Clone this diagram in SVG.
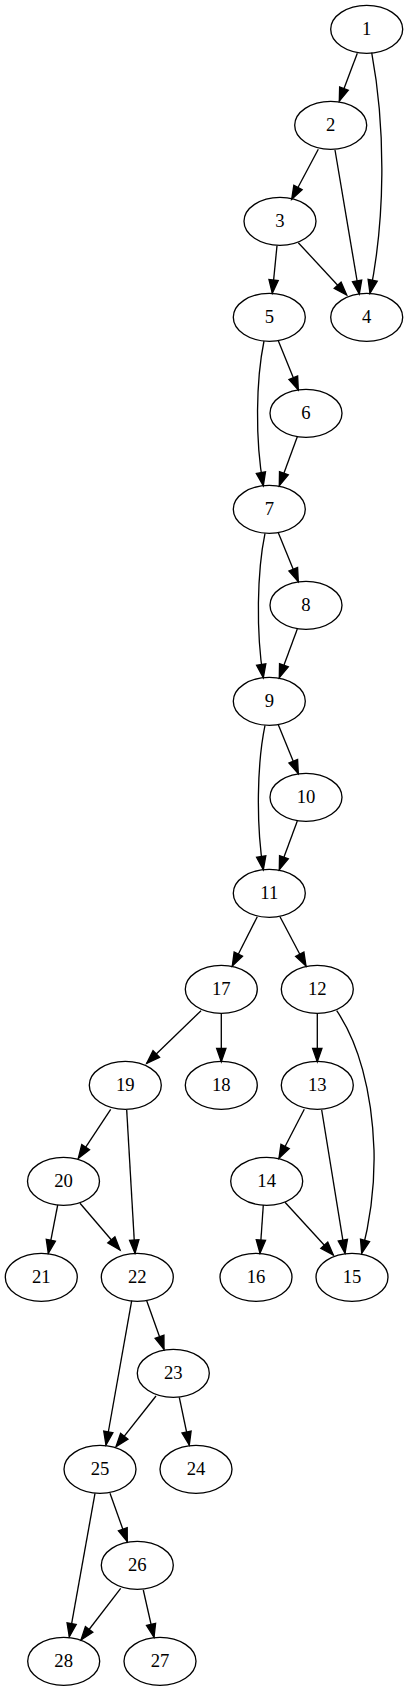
<svg xmlns="http://www.w3.org/2000/svg" width="408" height="1691" viewBox="0 0 408 1691">
<style>
.n ellipse{fill:none;stroke:#000;stroke-width:1.33}
.n text{font-family:"Liberation Serif","Times New Roman",serif;font-size:18.67px;text-anchor:middle;fill:#000}
#edges path{fill:none;stroke:#000;stroke-width:1.33;marker-end:url(#ah)}
</style>
<defs>
<marker id="ah" markerUnits="userSpaceOnUse" markerWidth="16" markerHeight="12" viewBox="0 0 16 12" refX="14" refY="6" orient="auto" style="overflow:visible">
<polygon points="0.67,1.33 14,6 0.67,10.67" fill="#000" stroke="#000" stroke-width="1.33"/>
</marker>
</defs>
<rect width="408" height="1691" fill="#fff"/>
<g id="edges">
<path d="M357.3,53.3 L339.3,101"/>
<path d="M371.7,52.7 C386,130 385,220 370,293.3"/>
<path d="M318.3,149.3 L291.7,199.3"/>
<path d="M335,150 L359.3,294"/>
<path d="M277,245.7 L272.3,293.3"/>
<path d="M298.3,242.7 L346.7,295"/>
<path d="M278.3,340.7 L298.3,390"/>
<path d="M264,341 C256,380 255,440 263.3,485.7"/>
<path d="M297.3,436.7 L279.3,485.7"/>
<path d="M278.3,532.7 L298.3,581.7"/>
<path d="M265,533.3 C257,572 256,632 263.3,677.7"/>
<path d="M297.3,629 L279.3,677.7"/>
<path d="M278.3,724.7 L298.3,773.7"/>
<path d="M265,725.3 C257,764 256,824 263.3,869.7"/>
<path d="M297.3,821 L279.3,869.7"/>
<path d="M257.3,916.7 L232.3,966"/>
<path d="M280,916.7 L306,966"/>
<path d="M201,1010.7 L146.7,1063.3"/>
<path d="M221.3,1013.3 L221.3,1061.7"/>
<path d="M317.3,1013.3 L317.3,1061.7"/>
<path d="M336.7,1010.7 C358,1042 372,1090 374,1150 C375,1190 369,1225 361.7,1253.3"/>
<path d="M110.7,1109.3 L78.3,1158.3"/>
<path d="M126.7,1110 L135,1253.3"/>
<path d="M304.3,1109.3 L279,1158.3"/>
<path d="M321.7,1110 L345,1253.3"/>
<path d="M57.7,1205 L48.3,1253.3"/>
<path d="M80,1203.3 L120,1250"/>
<path d="M263.3,1205 L260,1253.3"/>
<path d="M285,1202.3 L333.3,1255"/>
<path d="M131.7,1300.7 L106,1445"/>
<path d="M146.7,1300.7 L164,1349.3"/>
<path d="M156,1396 L116,1446.7"/>
<path d="M179.3,1397.3 L189.3,1445"/>
<path d="M110,1493.3 L127.3,1541.7"/>
<path d="M95,1493.3 L69.3,1636.7"/>
<path d="M120.7,1588.3 L81,1640"/>
<path d="M143.3,1590 L154,1637.3"/>
</g>
<g id="n1" class="n"><ellipse cx="366.7" cy="29.3" rx="36" ry="24"/><text x="366.7" y="35.3">1</text></g>
<g id="n2" class="n"><ellipse cx="330.7" cy="125.3" rx="36" ry="24"/><text x="330.7" y="131.3">2</text></g>
<g id="n3" class="n"><ellipse cx="280" cy="221.3" rx="36" ry="24"/><text x="280" y="227.3">3</text></g>
<g id="n4" class="n"><ellipse cx="366.7" cy="317.3" rx="36" ry="24"/><text x="366.7" y="323.3">4</text></g>
<g id="n5" class="n"><ellipse cx="269.3" cy="317.3" rx="36" ry="24"/><text x="269.3" y="323.3">5</text></g>
<g id="n6" class="n"><ellipse cx="306" cy="413.3" rx="36" ry="24"/><text x="306" y="419.3">6</text></g>
<g id="n7" class="n"><ellipse cx="269.3" cy="509.3" rx="36" ry="24"/><text x="269.3" y="515.3">7</text></g>
<g id="n8" class="n"><ellipse cx="306" cy="605.3" rx="36" ry="24"/><text x="306" y="611.3">8</text></g>
<g id="n9" class="n"><ellipse cx="269.3" cy="701.3" rx="36" ry="24"/><text x="269.3" y="707.3">9</text></g>
<g id="n10" class="n"><ellipse cx="306" cy="797.3" rx="36" ry="24"/><text x="306" y="803.3">10</text></g>
<g id="n11" class="n"><ellipse cx="269.3" cy="893.3" rx="36" ry="24"/><text x="269.3" y="899.3">11</text></g>
<g id="n17" class="n"><ellipse cx="221.3" cy="989.3" rx="36" ry="24"/><text x="221.3" y="995.3">17</text></g>
<g id="n12" class="n"><ellipse cx="317.3" cy="989.3" rx="36" ry="24"/><text x="317.3" y="995.3">12</text></g>
<g id="n19" class="n"><ellipse cx="125.3" cy="1085.3" rx="36" ry="24"/><text x="125.3" y="1091.3">19</text></g>
<g id="n18" class="n"><ellipse cx="221.3" cy="1085.3" rx="36" ry="24"/><text x="221.3" y="1091.3">18</text></g>
<g id="n13" class="n"><ellipse cx="317.3" cy="1085.3" rx="36" ry="24"/><text x="317.3" y="1091.3">13</text></g>
<g id="n20" class="n"><ellipse cx="63.5" cy="1181.3" rx="36" ry="24"/><text x="63.5" y="1187.3">20</text></g>
<g id="n14" class="n"><ellipse cx="266.7" cy="1181.3" rx="36" ry="24"/><text x="266.7" y="1187.3">14</text></g>
<g id="n21" class="n"><ellipse cx="41.3" cy="1277.3" rx="36" ry="24"/><text x="41.3" y="1283.3">21</text></g>
<g id="n22" class="n"><ellipse cx="137.3" cy="1277.3" rx="36" ry="24"/><text x="137.3" y="1283.3">22</text></g>
<g id="n16" class="n"><ellipse cx="256" cy="1277.3" rx="36" ry="24"/><text x="256" y="1283.3">16</text></g>
<g id="n15" class="n"><ellipse cx="352" cy="1277.3" rx="36" ry="24"/><text x="352" y="1283.3">15</text></g>
<g id="n23" class="n"><ellipse cx="173.3" cy="1373.3" rx="36" ry="24"/><text x="173.3" y="1379.3">23</text></g>
<g id="n25" class="n"><ellipse cx="100" cy="1469.3" rx="36" ry="24"/><text x="100" y="1475.3">25</text></g>
<g id="n24" class="n"><ellipse cx="196" cy="1469.3" rx="36" ry="24"/><text x="196" y="1475.3">24</text></g>
<g id="n26" class="n"><ellipse cx="137.3" cy="1565.3" rx="36" ry="24"/><text x="137.3" y="1571.3">26</text></g>
<g id="n28" class="n"><ellipse cx="63.7" cy="1661.3" rx="36" ry="24"/><text x="63.7" y="1667.3">28</text></g>
<g id="n27" class="n"><ellipse cx="160" cy="1661.3" rx="36" ry="24"/><text x="160" y="1667.3">27</text></g>
</svg>
